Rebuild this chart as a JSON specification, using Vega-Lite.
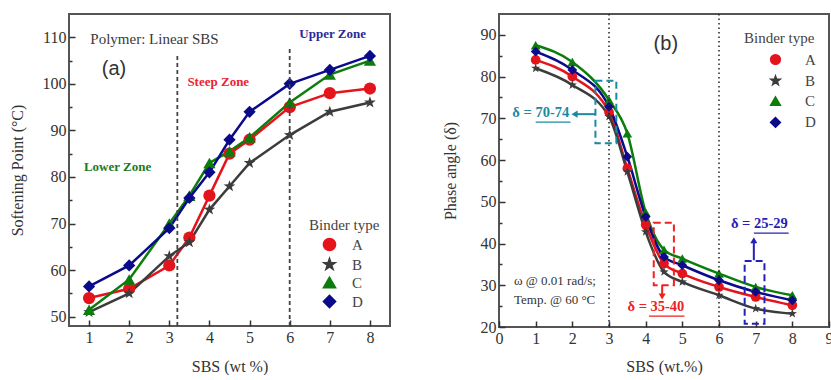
{
  "$schema": "https://vega.github.io/schema/vega-lite/v6.json",
  "padding": {"left": 8, "top": 12, "right": 0, "bottom": 0},
  "background": "white",
  "spacing": 50,
  "datasets": {
    "sp": [
      {"sbs": 1, "binder": "A", "v": 54}, {"sbs": 2, "binder": "A", "v": 56}, {"sbs": 3, "binder": "A", "v": 61}, {"sbs": 3.5, "binder": "A", "v": 67}, {"sbs": 4, "binder": "A", "v": 76}, {"sbs": 4.5, "binder": "A", "v": 85}, {"sbs": 5, "binder": "A", "v": 88}, {"sbs": 6, "binder": "A", "v": 95}, {"sbs": 7, "binder": "A", "v": 98}, {"sbs": 8, "binder": "A", "v": 99},
      {"sbs": 1, "binder": "B", "v": 51}, {"sbs": 2, "binder": "B", "v": 55}, {"sbs": 3, "binder": "B", "v": 63}, {"sbs": 3.5, "binder": "B", "v": 66}, {"sbs": 4, "binder": "B", "v": 73}, {"sbs": 4.5, "binder": "B", "v": 78}, {"sbs": 5, "binder": "B", "v": 83}, {"sbs": 6, "binder": "B", "v": 89}, {"sbs": 7, "binder": "B", "v": 94}, {"sbs": 8, "binder": "B", "v": 96},
      {"sbs": 1, "binder": "C", "v": 51.5}, {"sbs": 2, "binder": "C", "v": 58}, {"sbs": 3, "binder": "C", "v": 70}, {"sbs": 3.5, "binder": "C", "v": 76}, {"sbs": 4, "binder": "C", "v": 83}, {"sbs": 4.5, "binder": "C", "v": 85.5}, {"sbs": 5, "binder": "C", "v": 88.5}, {"sbs": 6, "binder": "C", "v": 96}, {"sbs": 7, "binder": "C", "v": 102}, {"sbs": 8, "binder": "C", "v": 105},
      {"sbs": 1, "binder": "D", "v": 56.5}, {"sbs": 2, "binder": "D", "v": 61}, {"sbs": 3, "binder": "D", "v": 69}, {"sbs": 3.5, "binder": "D", "v": 75.5}, {"sbs": 4, "binder": "D", "v": 81}, {"sbs": 4.5, "binder": "D", "v": 88}, {"sbs": 5, "binder": "D", "v": 94}, {"sbs": 6, "binder": "D", "v": 100}, {"sbs": 7, "binder": "D", "v": 103}, {"sbs": 8, "binder": "D", "v": 106}
    ],
    "pa": [
      {"sbs": 1, "binder": "A", "v": 84}, {"sbs": 2, "binder": "A", "v": 80}, {"sbs": 3, "binder": "A", "v": 71.5}, {"sbs": 3.5, "binder": "A", "v": 58}, {"sbs": 4, "binder": "A", "v": 44.5}, {"sbs": 4.5, "binder": "A", "v": 35.2}, {"sbs": 5, "binder": "A", "v": 32.8}, {"sbs": 6, "binder": "A", "v": 29.6}, {"sbs": 7, "binder": "A", "v": 27.2}, {"sbs": 8, "binder": "A", "v": 25.2},
      {"sbs": 1, "binder": "B", "v": 82}, {"sbs": 2, "binder": "B", "v": 78}, {"sbs": 3, "binder": "B", "v": 70.4}, {"sbs": 3.5, "binder": "B", "v": 57.2}, {"sbs": 4, "binder": "B", "v": 42.8}, {"sbs": 4.5, "binder": "B", "v": 33.2}, {"sbs": 5, "binder": "B", "v": 30.8}, {"sbs": 6, "binder": "B", "v": 27.6}, {"sbs": 7, "binder": "B", "v": 24.4}, {"sbs": 8, "binder": "B", "v": 23.2},
      {"sbs": 1, "binder": "C", "v": 87.5}, {"sbs": 2, "binder": "C", "v": 83.5}, {"sbs": 3, "binder": "C", "v": 74.4}, {"sbs": 3.5, "binder": "C", "v": 66.4}, {"sbs": 4, "binder": "C", "v": 47.5}, {"sbs": 4.5, "binder": "C", "v": 38.5}, {"sbs": 5, "binder": "C", "v": 36.4}, {"sbs": 6, "binder": "C", "v": 32.8}, {"sbs": 7, "binder": "C", "v": 29.6}, {"sbs": 8, "binder": "C", "v": 27.6},
      {"sbs": 1, "binder": "D", "v": 86}, {"sbs": 2, "binder": "D", "v": 81.6}, {"sbs": 3, "binder": "D", "v": 72.8}, {"sbs": 3.5, "binder": "D", "v": 60.8}, {"sbs": 4, "binder": "D", "v": 46.4}, {"sbs": 4.5, "binder": "D", "v": 36.8}, {"sbs": 5, "binder": "D", "v": 34.8}, {"sbs": 6, "binder": "D", "v": 31.2}, {"sbs": 7, "binder": "D", "v": 28.4}, {"sbs": 8, "binder": "D", "v": 26.4}
    ]
  },
  "resolve": {"scale": {"color": "independent", "shape": "independent"}, "legend": {"color": "independent", "shape": "independent"}},
  "config": {
    "view": {"stroke": "#555", "strokeWidth": 2},
    "font": "Liberation Serif",
    "axis": {
      "labelFont": "Liberation Serif", "titleFont": "Liberation Serif",
      "labelFontSize": 16, "titleFontSize": 16, "titleFontWeight": "normal",
      "labelColor": "#333", "titleColor": "#333",
      "domain": false, "grid": false, "ticks": true, "tickColor": "#333", "tickWidth": 1.5,
      "labelPadding": 9, "labelOverlap": false, "labelFlush": false, "tickCount": 100
    },
    "legend": {
      "titleFont": "Liberation Serif", "labelFont": "Liberation Serif",
      "titleFontWeight": "normal", "titleColor": "#444", "labelColor": "#444"
    }
  },
  "hconcat": [
    {
      "width": 321, "height": 312,
      "layer": [
        {
          "data": {"name": "sp"},
          "mark": {"type": "line", "strokeWidth": 2.5},
          "encoding": {
            "x": {"field": "sbs", "type": "quantitative", "title": "SBS (wt %)",
              "scale": {"domain": [0.5, 8.5], "nice": false, "zero": false},
              "axis": {"values": [1, 1.5, 2, 2.5, 3, 3.5, 4, 4.5, 5, 5.5, 6, 6.5, 7, 7.5, 8], "tickCount": 100, "format": "d",
                "labelExpr": "datum.value % 1 === 0 ? datum.label : ''", "labelOverlap": false, "titlePadding": 13,
                "tickSize": {"condition": {"test": "datum.value % 1 !== 0", "value": -3}, "value": -6}}},
            "y": {"field": "v", "type": "quantitative", "title": "Softening Point (°C)",
              "scale": {"domain": [48, 115], "nice": false, "zero": false},
              "axis": {"values": [50, 55, 60, 65, 70, 75, 80, 85, 90, 95, 100, 105, 110], "tickCount": 100, "format": "d",
                "labelExpr": "datum.value % 10 === 0 ? datum.label : ''", "labelOverlap": false, "titlePadding": 17,
                "tickSize": {"condition": {"test": "datum.value % 10 !== 0", "value": -3}, "value": -6}}},
            "color": {"field": "binder", "type": "nominal", "scale": {"domain": ["A", "B", "C", "D"], "range": ["#e4141c", "#3c3c3c", "#0c7c0c", "#0a0a8a"]},
              "legend": {"orient": "none", "legendX": 240, "legendY": 204, "title": "Binder type", "titleFontSize": 15, "labelFontSize": 15, "symbolSize": 150, "symbolOffset": 13, "labelOffset": 15, "rowPadding": 1, "titlePadding": 4}}
          }
        },
        {
          "data": {"name": "sp"},
          "mark": {"type": "point", "filled": true, "size": 150, "opacity": 1},
          "encoding": {
            "x": {"field": "sbs", "type": "quantitative"},
            "y": {"field": "v", "type": "quantitative"},
            "color": {"field": "binder", "type": "nominal", "scale": {"domain": ["A", "B", "C", "D"], "range": ["#e4141c", "#3c3c3c", "#0c7c0c", "#0a0a8a"]},
              "legend": {"orient": "none", "legendX": 240, "legendY": 204, "title": "Binder type", "titleFontSize": 15, "labelFontSize": 15, "symbolSize": 150, "symbolOffset": 13, "labelOffset": 15, "rowPadding": 1, "titlePadding": 4}},
            "shape": {"field": "binder", "type": "nominal", "scale": {"domain": ["A", "B", "C", "D"], "range": ["circle", "M0,-1L0.235,-0.324L0.951,-0.309L0.380,0.124L0.588,0.809L0,0.4L-0.588,0.809L-0.380,0.124L-0.951,-0.309L-0.235,-0.324Z", "triangle-up", "diamond"]},
              "legend": {"orient": "none", "legendX": 240, "legendY": 204, "title": "Binder type", "titleFontSize": 15, "labelFontSize": 15, "symbolSize": 150, "symbolOffset": 13, "labelOffset": 15, "rowPadding": 1, "titlePadding": 4}}
          }
        },
        {
          "data": {"values": [{"sbs": 3.2, "v": 48, "v2": 106.5}, {"sbs": 6, "v": 48, "v2": 108}]},
          "mark": {"type": "rule", "strokeDash": [4, 3], "color": "#444", "strokeWidth": 1.8},
          "encoding": {
            "x": {"field": "sbs", "type": "quantitative"},
            "y": {"field": "v", "type": "quantitative"},
            "y2": {"field": "v2"}
          }
        },
        {
          "data": {"values": [{}]},
          "mark": {"type": "text", "text": "Polymer: Linear SBS", "font": "Liberation Serif", "fontSize": 15, "color": "#3a3a3a", "align": "center", "baseline": "middle"},
          "encoding": {"x": {"datum": 2.63}, "y": {"datum": 109.6}}
        },
        {
          "data": {"values": [{}]},
          "mark": {"type": "text", "text": "(a)", "font": "Liberation Sans", "fontSize": 20, "color": "#333", "align": "center", "baseline": "middle"},
          "encoding": {"x": {"datum": 1.62}, "y": {"datum": 103.1}}
        },
        {
          "data": {"values": [{}]},
          "mark": {"type": "text", "text": "Steep Zone", "fontSize": 13, "fontWeight": "bold", "color": "#ee2233", "align": "center", "baseline": "middle"},
          "encoding": {"x": {"datum": 4.22}, "y": {"datum": 100.3}}
        },
        {
          "data": {"values": [{}]},
          "mark": {"type": "text", "text": "Upper Zone", "fontSize": 13, "fontWeight": "bold", "color": "#2a2a9a", "align": "center", "baseline": "middle"},
          "encoding": {"x": {"datum": 7.07}, "y": {"datum": 110.6}}
        },
        {
          "data": {"values": [{}]},
          "mark": {"type": "text", "text": "Lower Zone", "fontSize": 13, "fontWeight": "bold", "color": "#1a7a1a", "align": "center", "baseline": "middle"},
          "encoding": {"x": {"datum": 1.71}, "y": {"datum": 82.1}}
        }
      ]
    },
    {
      "width": 330, "height": 313,
      "layer": [
        {
          "data": {"name": "pa"},
          "mark": {"type": "line", "strokeWidth": 2.5, "interpolate": "monotone"},
          "encoding": {
            "x": {"field": "sbs", "type": "quantitative", "title": "SBS (wt.%)",
              "scale": {"domain": [0, 9], "nice": false, "zero": false},
              "axis": {"values": [0, 0.5, 1, 1.5, 2, 2.5, 3, 3.5, 4, 4.5, 5, 5.5, 6, 6.5, 7, 7.5, 8, 8.5, 9], "tickCount": 100, "format": "d",
                "labelExpr": "datum.value % 1 === 0 ? datum.label : ''", "titlePadding": 12, "labelOverlap": false,
                "tickSize": {"condition": {"test": "datum.value % 1 !== 0", "value": -3}, "value": -6}}},
            "y": {"field": "v", "type": "quantitative", "title": "Phase angle (δ)",
              "scale": {"domain": [20, 95], "nice": false, "zero": false},
              "axis": {"values": [20, 25, 30, 35, 40, 45, 50, 55, 60, 65, 70, 75, 80, 85, 90], "tickCount": 100, "format": "d",
                "labelExpr": "datum.value % 10 === 0 ? datum.label : ''", "titlePadding": 22, "labelOverlap": false,
                "tickSize": {"condition": {"test": "datum.value % 10 !== 0", "value": -3}, "value": -6}}},
            "color": {"field": "binder", "type": "nominal", "scale": {"domain": ["A", "B", "C", "D"], "range": ["#e4141c", "#3c3c3c", "#0c7c0c", "#0a0a8a"]},
              "legend": {"orient": "none", "legendX": 245, "legendY": 17, "title": "Binder type", "titleFontSize": 15, "labelFontSize": 15, "symbolSize": 95, "symbolOffset": 24, "labelOffset": 22, "rowPadding": 4.3, "titlePadding": 6}}
          }
        },
        {
          "data": {"name": "pa"},
          "mark": {"type": "point", "filled": true, "size": 95, "opacity": 1},
          "encoding": {
            "x": {"field": "sbs", "type": "quantitative"},
            "y": {"field": "v", "type": "quantitative"},
            "color": {"field": "binder", "type": "nominal", "scale": {"domain": ["A", "B", "C", "D"], "range": ["#e4141c", "#3c3c3c", "#0c7c0c", "#0a0a8a"]},
              "legend": {"orient": "none", "legendX": 245, "legendY": 17, "title": "Binder type", "titleFontSize": 15, "labelFontSize": 15, "symbolSize": 95, "symbolOffset": 24, "labelOffset": 22, "rowPadding": 4.3, "titlePadding": 6}},
            "shape": {"field": "binder", "type": "nominal", "scale": {"domain": ["A", "B", "C", "D"], "range": ["circle", "M0,-1L0.235,-0.324L0.951,-0.309L0.380,0.124L0.588,0.809L0,0.4L-0.588,0.809L-0.380,0.124L-0.951,-0.309L-0.235,-0.324Z", "triangle-up", "diamond"]},
              "legend": {"orient": "none", "legendX": 245, "legendY": 17, "title": "Binder type", "titleFontSize": 15, "labelFontSize": 15, "symbolSize": 95, "symbolOffset": 24, "labelOffset": 22, "rowPadding": 4.3, "titlePadding": 6}}
          }
        },
        {
          "data": {"values": [{"sbs": 3}, {"sbs": 6}]},
          "mark": {"type": "rule", "strokeDash": [1.5, 3], "color": "#222", "strokeWidth": 1.5},
          "encoding": {
            "x": {"field": "sbs", "type": "quantitative"}
          }
        },
        {
          "data": {"values": [{}]},
          "mark": {"type": "rect", "fill": null, "stroke": "#1a8aa0", "strokeWidth": 2, "strokeDash": [7, 4]},
          "encoding": {"x": {"datum": 2.63}, "x2": {"datum": 3.2}, "y": {"datum": 64}, "y2": {"datum": 79}}
        },
        {
          "data": {"values": [{}]},
          "mark": {"type": "rect", "fill": null, "stroke": "#ee2222", "strokeWidth": 2, "strokeDash": [7, 4]},
          "encoding": {"x": {"datum": 4.22}, "x2": {"datum": 4.77}, "y": {"datum": 30}, "y2": {"datum": 45}}
        },
        {
          "data": {"values": [{}]},
          "mark": {"type": "rect", "fill": null, "stroke": "#2222bb", "strokeWidth": 2, "strokeDash": [7, 4]},
          "encoding": {"x": {"datum": 6.7}, "x2": {"datum": 7.24}, "y": {"datum": 20.8}, "y2": {"datum": 35.8}}
        },
        {
          "data": {"values": [{}]},
          "mark": {"type": "rule", "color": "#1a8aa0", "strokeWidth": 2},
          "encoding": {"x": {"datum": 2.63}, "x2": {"datum": 2.1}, "y": {"datum": 71}}
        },
        {
          "data": {"values": [{}]},
          "mark": {"type": "point", "shape": "triangle-left", "filled": true, "size": 50, "color": "#1a8aa0", "opacity": 1},
          "encoding": {"x": {"datum": 2.06}, "y": {"datum": 71}}
        },
        {
          "data": {"values": [{}]},
          "mark": {"type": "rule", "color": "#ee2222", "strokeWidth": 2},
          "encoding": {"x": {"datum": 4.45}, "y": {"datum": 30}, "y2": {"datum": 27.8}}
        },
        {
          "data": {"values": [{}]},
          "mark": {"type": "point", "shape": "triangle-down", "filled": true, "size": 50, "color": "#ee2222", "opacity": 1},
          "encoding": {"x": {"datum": 4.45}, "y": {"datum": 27.3}}
        },
        {
          "data": {"values": [{}]},
          "mark": {"type": "rule", "color": "#2222bb", "strokeWidth": 2},
          "encoding": {"x": {"datum": 6.95}, "y": {"datum": 36}, "y2": {"datum": 40.5}}
        },
        {
          "data": {"values": [{}]},
          "mark": {"type": "point", "shape": "triangle-up", "filled": true, "size": 50, "color": "#2222bb", "opacity": 1},
          "encoding": {"x": {"datum": 6.95}, "y": {"datum": 40.8}}
        },
        {
          "data": {"values": [{}]},
          "mark": {"type": "text", "text": "δ = 70-74", "fontSize": 14.5, "fontWeight": "bold", "color": "#1a8aa0", "align": "center", "baseline": "middle"},
          "encoding": {"x": {"datum": 1.14}, "y": {"datum": 71.3}}
        },
        {
          "data": {"values": [{}]},
          "mark": {"type": "rule", "color": "#1a8aa0", "strokeWidth": 1.2},
          "encoding": {"x": {"datum": 1.0}, "x2": {"datum": 1.95}, "y": {"datum": 69.1}}
        },
        {
          "data": {"values": [{}]},
          "mark": {"type": "text", "text": "δ = 35-40", "fontSize": 14.5, "fontWeight": "bold", "color": "#ee2222", "align": "center", "baseline": "middle"},
          "encoding": {"x": {"datum": 4.28}, "y": {"datum": 24.7}}
        },
        {
          "data": {"values": [{}]},
          "mark": {"type": "rule", "color": "#ee2222", "strokeWidth": 1.2},
          "encoding": {"x": {"datum": 4.09}, "x2": {"datum": 5.06}, "y": {"datum": 22.6}}
        },
        {
          "data": {"values": [{}]},
          "mark": {"type": "text", "text": "δ = 25-29", "fontSize": 14.5, "fontWeight": "bold", "color": "#2222bb", "align": "center", "baseline": "middle"},
          "encoding": {"x": {"datum": 7.1}, "y": {"datum": 44.6}}
        },
        {
          "data": {"values": [{}]},
          "mark": {"type": "rule", "color": "#2222bb", "strokeWidth": 1.2},
          "encoding": {"x": {"datum": 6.95}, "x2": {"datum": 7.9}, "y": {"datum": 42.5}}
        },
        {
          "data": {"values": [{}]},
          "mark": {"type": "text", "text": "ω @ 0.01 rad/s;", "fontSize": 13, "color": "#333", "align": "left", "baseline": "middle"},
          "encoding": {"x": {"datum": 0.41}, "y": {"datum": 31}}
        },
        {
          "data": {"values": [{}]},
          "mark": {"type": "text", "text": "Temp. @ 60 °C", "fontSize": 13, "color": "#333", "align": "left", "baseline": "middle"},
          "encoding": {"x": {"datum": 0.41}, "y": {"datum": 26.5}}
        },
        {
          "data": {"values": [{}]},
          "mark": {"type": "text", "text": "(b)", "font": "Liberation Sans", "fontSize": 20, "color": "#333", "align": "center", "baseline": "middle"},
          "encoding": {"x": {"datum": 4.55}, "y": {"datum": 87.9}}
        }
      ]
    }
  ]
}
